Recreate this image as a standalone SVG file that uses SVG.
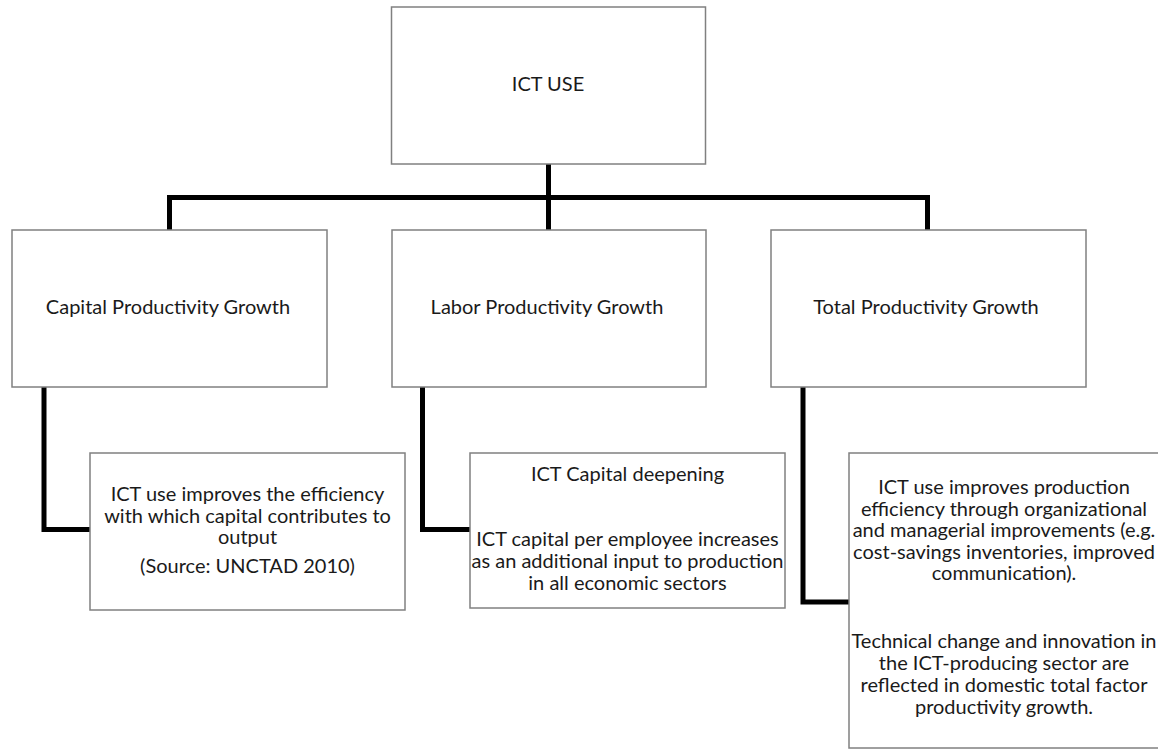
<svg xmlns="http://www.w3.org/2000/svg" width="1158" height="750" viewBox="0 0 1158 750">
<style>
.box{fill:#ffffff;stroke:#808080;stroke-width:1.5}
.t{font-family:Lato,"Liberation Sans",sans-serif;font-size:20px;fill:#1a1a1a;text-anchor:middle}
.c{fill:none;stroke:#000000;stroke-width:5;stroke-linejoin:miter;stroke-linecap:butt}
</style>
<rect width="1158" height="750" fill="#ffffff"/>
<g id="connectors">
<path class="c" d="M548.5,164 V197.5"/>
<path class="c" d="M169.5,230 V197.5 H927.5 V230"/>
<path class="c" d="M548.5,197.5 V230"/>
<path class="c" d="M44,387 V529.5 H90"/>
<path class="c" d="M422.5,387 V529.5 H470"/>
<path class="c" d="M803,387 V602 H849"/>
</g>
<g id="ict-use">
<rect class="box" x="391.5" y="7" width="314" height="157"/>
<text class="t" x="548" y="91">ICT USE</text>
</g>
<g id="capital">
<rect class="box" x="12" y="230" width="315" height="157"/>
<text class="t" x="168" y="314">Capital Productivity Growth</text>
</g>
<g id="labor">
<rect class="box" x="392" y="230" width="314" height="157"/>
<text class="t" x="547" y="314">Labor Productivity Growth</text>
</g>
<g id="total">
<rect class="box" x="771" y="230" width="315" height="157"/>
<text class="t" x="926" y="314">Total Productivity Growth</text>
</g>
<g id="capital-detail">
<rect class="box" x="90" y="453" width="315" height="157"/>
<text class="t" x="247.5" y="501">ICT use improves the efficiency</text>
<text class="t" x="247.5" y="522.5">with which capital contributes to</text>
<text class="t" x="247.5" y="544">output</text>
<text class="t" x="247.5" y="573">(Source: UNCTAD 2010)</text>
</g>
<g id="labor-detail">
<rect class="box" x="470" y="453" width="315" height="155"/>
<text class="t" x="627.5" y="481">ICT Capital deepening</text>
<text class="t" x="627.5" y="546">ICT capital per employee increases</text>
<text class="t" x="627.5" y="568">as an additional input to production</text>
<text class="t" x="627.5" y="589.5">in all economic sectors</text>
</g>
<g id="total-detail">
<rect class="box" x="849" y="453" width="315" height="295"/>
<text class="t" x="1004" y="494">ICT use improves production</text>
<text class="t" x="1004" y="515.5">efficiency through organizational</text>
<text class="t" x="1004" y="537">and managerial improvements (e.g.</text>
<text class="t" x="1004" y="558.5">cost-savings inventories, improved</text>
<text class="t" x="1004" y="580">communication).</text>
<text class="t" x="1004" y="648">Technical change and innovation in</text>
<text class="t" x="1004" y="670">the ICT-producing sector are</text>
<text class="t" x="1004" y="692">reflected in domestic total factor</text>
<text class="t" x="1004" y="713.5">productivity growth.</text>
</g>
</svg>
